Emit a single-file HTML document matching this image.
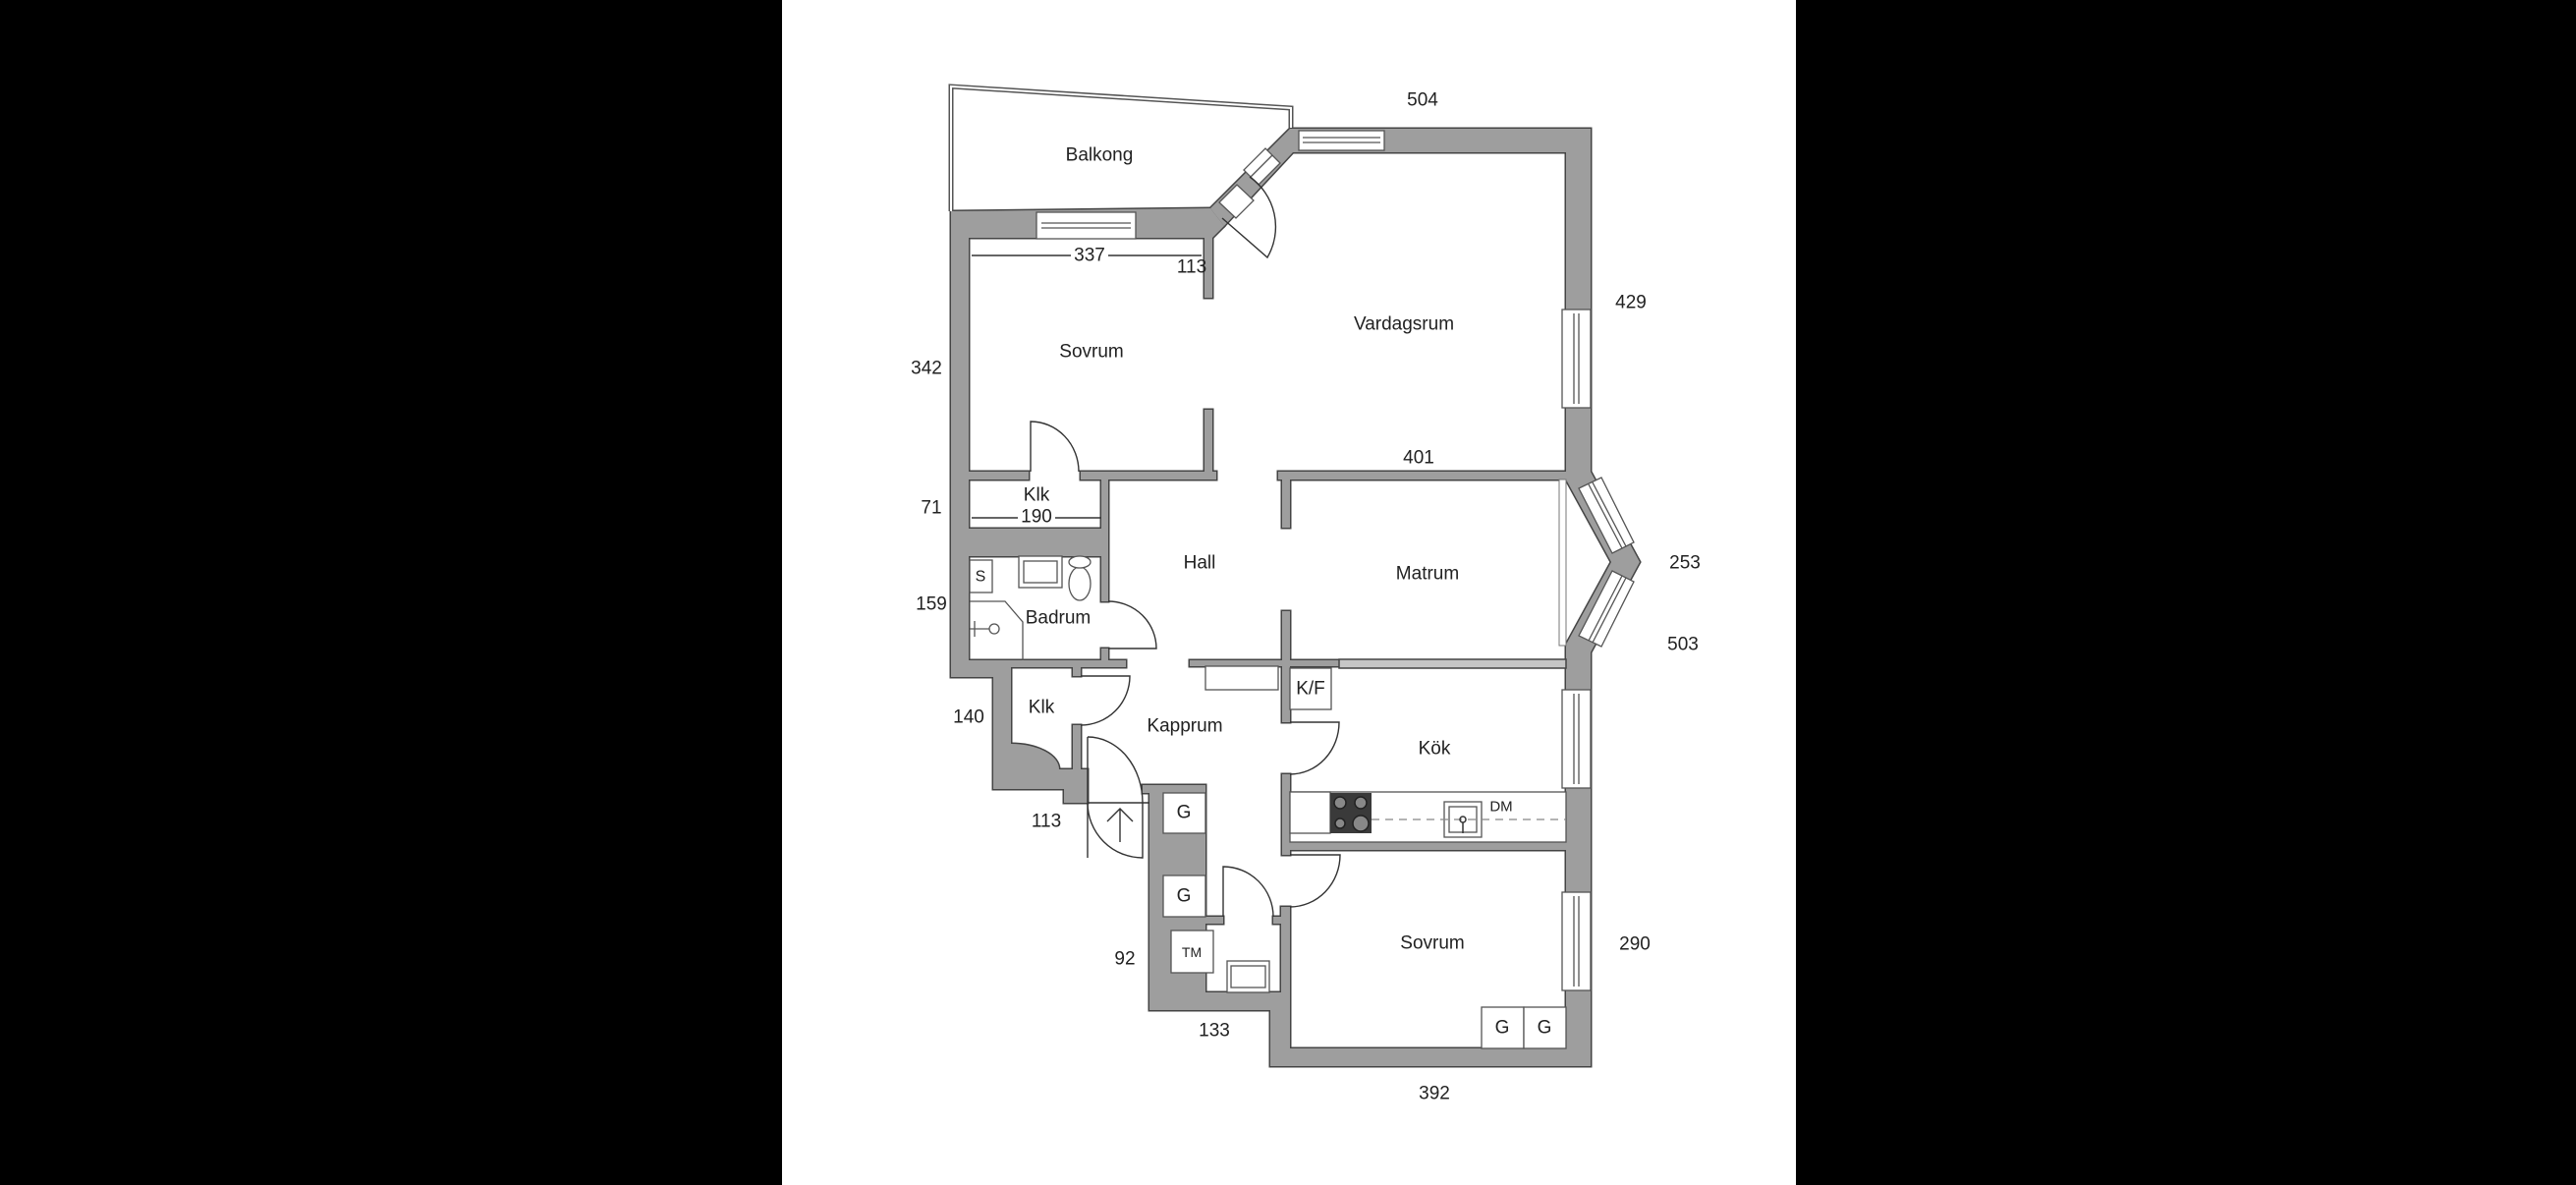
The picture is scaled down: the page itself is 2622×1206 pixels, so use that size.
<!DOCTYPE html>
<html><head><meta charset="utf-8"><style>
html,body{margin:0;padding:0;background:#000;}
svg{display:block;}
text{font-family:"Liberation Sans",sans-serif;fill:#222;}
</style></head><body>
<svg width="2622" height="1206" viewBox="0 0 2622 1206" xmlns="http://www.w3.org/2000/svg">
<rect x="0" y="0" width="2622" height="1206" fill="#000"/>
<rect x="796" y="0" width="1032" height="1206" fill="#fff"/>
<defs>
<g id="walls">
<polygon points="968,215 1232,212 1246,230 1234,242 968,242"/>
<rect x="968" y="215" width="18" height="474"/>
<rect x="968" y="672" width="61" height="17"/>
<rect x="1011" y="672" width="18" height="131"/>
<rect x="1011" y="783" width="89" height="20"/>
<rect x="1083" y="783" width="24" height="34"/>
<rect x="1092" y="738" width="8" height="62"/>
<rect x="1092" y="678" width="8" height="10"/>
<path d="M1029,757 A49,26 0 0 1 1078,783 L1029,783 Z"/>
<rect x="986" y="538" width="142" height="28"/>
<rect x="1121" y="488" width="7" height="124"/>
<rect x="1121" y="660" width="7" height="12"/>
<rect x="986" y="672" width="160" height="7"/>
<rect x="986" y="480" width="61" height="8"/>
<rect x="1100" y="480" width="138" height="8"/>
<rect x="1226" y="242" width="8" height="61"/>
<rect x="1226" y="417" width="8" height="71"/>
<polygon points="1232,212 1313,131 1322,131 1322,155 1316,155 1246,230"/>
<rect x="1322" y="131" width="297" height="24"/>
<rect x="1594" y="131" width="25" height="352"/>
<polygon points="1594,480 1619,480 1669,572 1619,664 1594,664 1594,656 1640,572 1594,488"/>
<rect x="1594" y="656" width="25" height="429"/>
<rect x="1293" y="1067" width="326" height="18"/>
<rect x="1293" y="1010" width="20" height="75"/>
<rect x="1304" y="923" width="9" height="162"/>
<rect x="1170" y="1010" width="134" height="18"/>
<rect x="1170" y="799" width="57" height="229"/>
<rect x="1163" y="799" width="63" height="8"/>
<rect x="1184" y="933" width="61" height="7"/>
<rect x="1296" y="933" width="8" height="7"/>
<rect x="1301" y="480" width="293" height="8"/>
<rect x="1305" y="488" width="8" height="49"/>
<rect x="1305" y="622" width="8" height="113"/>
<rect x="1305" y="788" width="8" height="82"/>
<rect x="1305" y="857" width="289" height="8"/>
<rect x="1305" y="848" width="91" height="17"/>
<rect x="1211" y="672" width="152" height="6"/>
</g>
</defs>
<use href="#walls" fill="#9e9e9e" stroke="#444" stroke-width="3"/>
<use href="#walls" fill="#9e9e9e" stroke="none"/>
<rect x="1363" y="671" width="231" height="9" fill="#c6c6c6" stroke="#444" stroke-width="1.5"/>
<polyline points="968,215 968,88 1314,110 1314,130" fill="none" stroke="#555" stroke-width="5"/>
<polyline points="968,215 968,88 1314,110 1314,130" fill="none" stroke="#fff" stroke-width="2"/>
<g fill="#fff" stroke="#555" stroke-width="1.3">
<rect x="1055" y="216" width="101" height="27"/>
<line x1="1060" y1="227" x2="1151" y2="227"/><line x1="1060" y1="232" x2="1151" y2="232"/>
<rect x="1322" y="133" width="87" height="20"/>
<line x1="1326" y1="140" x2="1405" y2="140"/><line x1="1326" y1="145" x2="1405" y2="145"/>
<rect x="1590" y="315" width="29" height="100"/>
<line x1="1602" y1="319" x2="1602" y2="411"/><line x1="1607" y1="319" x2="1607" y2="411"/>
<rect x="1590" y="702" width="29" height="100"/>
<line x1="1602" y1="706" x2="1602" y2="798"/><line x1="1607" y1="706" x2="1607" y2="798"/>
<rect x="1590" y="908" width="29" height="100"/>
<line x1="1602" y1="912" x2="1602" y2="1004"/><line x1="1607" y1="912" x2="1607" y2="1004"/>
<polygon points="1607,497 1630,486 1663,552 1641,563"/>
<line x1="1617" y1="493" x2="1651" y2="558"/><line x1="1621" y1="491" x2="1655" y2="556"/>
<polygon points="1641,581 1663,592 1630,658 1607,647"/>
<line x1="1651" y1="586" x2="1617" y2="652"/><line x1="1655" y1="588" x2="1621" y2="654"/>
<polygon points="1266,173 1281,188 1303,166 1288,151"/>
<line x1="1273" y1="180" x2="1295" y2="158"/>
<polygon points="1241,206 1258,222 1276,204 1259,188"/>
</g>
<rect x="1587" y="488" width="7" height="169" fill="#fff" stroke="#777" stroke-width="1"/>
<g fill="none" stroke="#333" stroke-width="1.4">
<path d="M1049,480 L1049,429 A49,51 0 0 1 1098,480"/>
<path d="M1128,612 A49,48 0 0 1 1177,660 L1128,660"/>
<path d="M1100,688 L1150,688 A50,50 0 0 1 1100,738"/>
<path d="M1107,750 L1107,873"/>
<path d="M1107,750 A56,67 0 0 1 1163,817"/>
<path d="M1107,817 L1170,817"/>
<path d="M1107,817 A56,56 0 0 0 1163,873 L1163,817"/>
<path d="M1140,857 L1140,823 M1127,836 L1140,823 L1153,836"/>
<path d="M1313,735 L1363,735 A50,53 0 0 1 1313,788"/>
<path d="M1313,870 L1364,870 A51,53 0 0 1 1313,923"/>
<path d="M1245,933 L1245,882 A51,51 0 0 1 1296,933"/>
<path d="M1244,222 L1290,262 A62,62 0 0 0 1272,180"/>
<line x1="989" y1="260" x2="1090" y2="260"/><line x1="1128" y1="260" x2="1223" y2="260"/>
<line x1="989" y1="527" x2="1036" y2="527"/><line x1="1074" y1="527" x2="1121" y2="527"/>
</g>
<g fill="#fff" stroke="#555" stroke-width="1.3">
<rect x="987" y="570" width="23" height="33"/>
<rect x="1037" y="566" width="44" height="32"/>
<rect x="1042" y="571" width="34" height="22"/>
<ellipse cx="1099" cy="594" rx="11" ry="17"/>
<ellipse cx="1099" cy="572" rx="11" ry="6"/>
<polyline points="987,612 1023,612 1041,633 1041,672" fill="none"/>
<circle cx="1012" cy="640" r="5"/>
<line x1="987" y1="640" x2="1007" y2="640"/><line x1="992" y1="632" x2="992" y2="648"/>
<rect x="1227" y="678" width="74" height="24"/>
<rect x="1313" y="680" width="42" height="42"/>
<rect x="1313" y="806" width="281" height="51"/>
<rect x="1313" y="806" width="41" height="42"/>
<rect x="1470" y="816" width="38" height="36"/>
<rect x="1475" y="821" width="28" height="26"/>
<rect x="1184" y="807" width="43" height="41"/>
<rect x="1184" y="891" width="43" height="42"/>
<rect x="1192" y="947" width="43" height="43"/>
<rect x="1249" y="978" width="43" height="32"/>
<rect x="1253" y="983" width="35" height="22"/>
<rect x="1508" y="1025" width="43" height="42"/>
<rect x="1551" y="1025" width="43" height="42"/>
</g>
<rect x="1354" y="807" width="42" height="41" fill="#3a3a3a"/>
<g fill="#888" stroke="#222" stroke-width="1.5">
<circle cx="1364" cy="817" r="6"/><circle cx="1385" cy="817" r="6"/>
<circle cx="1364" cy="838" r="5"/><circle cx="1385" cy="838" r="8"/>
</g>
<line x1="1396" y1="834" x2="1594" y2="834" stroke="#888" stroke-width="1.3" stroke-dasharray="8,6"/>
<circle cx="1489" cy="834" r="3" fill="none" stroke="#333" stroke-width="1.5"/>
<line x1="1489" y1="837" x2="1489" y2="848" stroke="#333" stroke-width="1.5"/>
<g font-size="19" text-anchor="middle" dominant-baseline="central">
<text x="1119" y="158">Balkong</text>
<text x="1448" y="102">504</text>
<text x="1109" y="260">337</text>
<text x="1213" y="272">113</text>
<text x="1429" y="330">Vardagsrum</text>
<text x="1111" y="358">Sovrum</text>
<text x="1660" y="308">429</text>
<text x="943" y="375">342</text>
<text x="1444" y="466">401</text>
<text x="948" y="517">71</text>
<text x="1055" y="504">Klk</text>
<text x="1055" y="526">190</text>
<text x="1221" y="573">Hall</text>
<text x="1453" y="584">Matrum</text>
<text x="1715" y="573">253</text>
<text x="1713" y="656">503</text>
<text x="948" y="615">159</text>
<text x="1077" y="629">Badrum</text>
<text x="998" y="587" font-size="16">S</text>
<text x="986" y="730">140</text>
<text x="1060" y="720">Klk</text>
<text x="1206" y="739">Kapprum</text>
<text x="1334" y="701">K/F</text>
<text x="1460" y="762">Kök</text>
<text x="1528" y="821" font-size="15">DM</text>
<text x="1065" y="836">113</text>
<text x="1205" y="827">G</text>
<text x="1205" y="912">G</text>
<text x="1213" y="969" font-size="14">TM</text>
<text x="1145" y="976">92</text>
<text x="1236" y="1049">133</text>
<text x="1458" y="960">Sovrum</text>
<text x="1664" y="961">290</text>
<text x="1529" y="1046">G</text>
<text x="1572" y="1046">G</text>
<text x="1460" y="1113">392</text>
</g>
</svg>
</body></html>
